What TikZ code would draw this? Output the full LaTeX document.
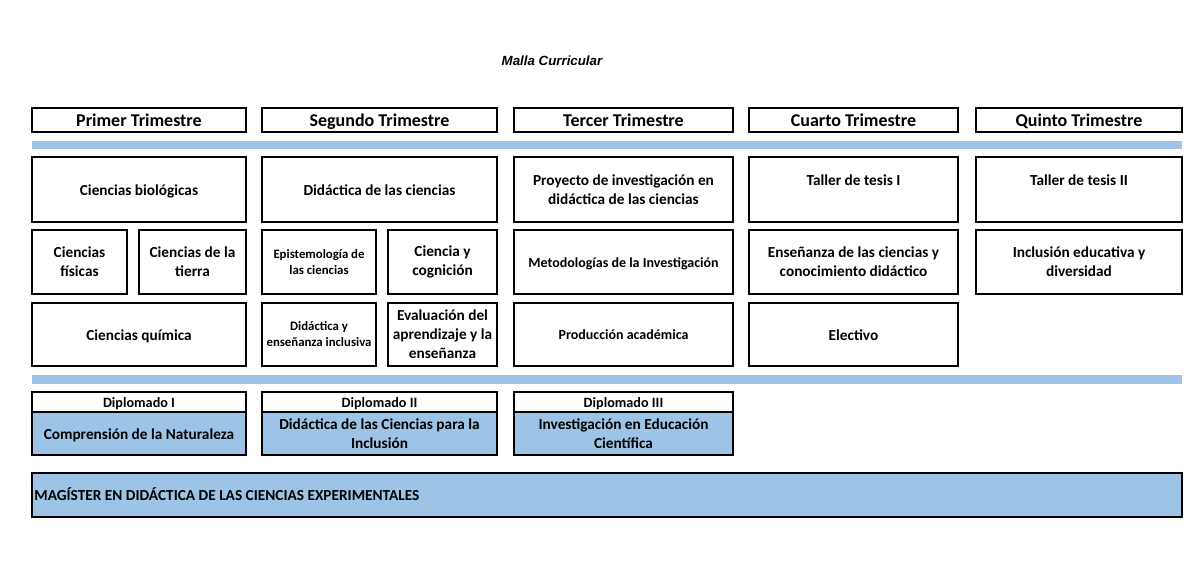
\documentclass[tikz,border=0pt]{standalone}
\usepackage{fontspec}
\setmainfont{Carlito}[BoldFont={* Bold}]
\newfontfamily\titlefont{Liberation Sans}
\definecolor{bandblue}{HTML}{9DC3E6}
\begin{document}
\begin{tikzpicture}[x=1pt,y=-1pt,
  box/.style={draw=black,line width=1.5pt,rectangle,inner sep=2pt,align=center},
  onehdr/.style={text height=14.4pt,text depth=2pt},
  onecell/.style={text height=12.6pt,text depth=1.4pt},
  onemid/.style={text height=11.7pt,text depth=1.1pt},
  onedh/.style={text height=11.8pt,text depth=1.1pt},
  hdr/.style={box,onehdr,font=\bfseries\fontsize{18}{20}\selectfont},
  cell/.style={box,font=\bfseries\fontsize{15.3}{19}\selectfont},
  smallcell/.style={box,font=\bfseries\fontsize{12.8}{16}\selectfont},
  midcell/.style={box,font=\bfseries\fontsize{14}{18}\selectfont},
  dhead/.style={box,onedh,font=\bfseries\fontsize{14.2}{16}\selectfont,minimum height=20},
  dbody/.style={box,fill=bandblue,font=\bfseries\fontsize{15.3}{19}\selectfont,minimum height=43},
  band/.style={fill=bandblue,draw=none,rectangle,inner sep=0pt}
]
\path[use as bounding box] (0,0) rectangle (1200,563);
\node[font=\titlefont\bfseries\itshape\fontsize{13.3}{15}\selectfont] (title) at (552,61) {Malla Curricular};
% headers
\node[hdr,minimum width=214,minimum height=24] (h1) at (139,120) {Primer Trimestre};
\node[hdr,minimum width=235,minimum height=24] (h2) at (379.5,120) {Segundo Trimestre};
\node[hdr,minimum width=219,minimum height=24] (h3) at (623.5,120) {Tercer Trimestre};
\node[hdr,minimum width=209,minimum height=24] (h4) at (853.5,120) {Cuarto Trimestre};
\node[hdr,minimum width=206,minimum height=24] (h5) at (1079,120) {Quinto Trimestre};
% band 1
\node[band,minimum width=1150,minimum height=8] (b1) at (607,145) {};
% row 1
\node[cell,onecell,minimum width=214,minimum height=65] (c11) at (139,189.5) {Ciencias biológicas};
\node[cell,onecell,minimum width=235,minimum height=65] (c21) at (379.5,189.5) {Didáctica de las ciencias};
\node[cell,minimum width=219,minimum height=65] (c31) at (623.5,189.5) {Proyecto de investigación en\\didáctica de las ciencias};
\node[cell,minimum width=209,minimum height=65] (c41) at (853.5,189.5) {Taller de tesis I\\\phantom{X}};
\node[cell,minimum width=206,minimum height=65] (c51) at (1079,189.5) {Taller de tesis II\\\phantom{X}};
% row 2
\node[cell,minimum width=95,minimum height=64] (c12a) at (79.5,262) {Ciencias\\físicas};
\node[cell,minimum width=107,minimum height=64] (c12b) at (192.5,262) {Ciencias de la\\tierra};
\node[smallcell,minimum width=114,minimum height=64] (c22a) at (319,262) {Epistemología de\\las ciencias};
\node[cell,minimum width=109,minimum height=64] (c22b) at (442.5,262) {Ciencia y\\cognición};
\node[midcell,onemid,minimum width=219,minimum height=64] (c32) at (623.5,262) {Metodologías de la Investigación};
\node[cell,minimum width=209,minimum height=64] (c42) at (853.5,262) {Enseñanza de las ciencias y\\conocimiento didáctico};
\node[cell,minimum width=206,minimum height=64] (c52) at (1079,262) {Inclusión educativa y\\diversidad};
% row 3
\node[cell,onecell,minimum width=214,minimum height=63] (c13) at (139,334.5) {Ciencias química};
\node[smallcell,minimum width=114,minimum height=63] (c23a) at (319,334.5) {Didáctica y\\enseñanza inclusiva};
\node[cell,minimum width=109,minimum height=63] (c23b) at (442.5,334.5) {Evaluación del\\aprendizaje y la\\enseñanza};
\node[midcell,onemid,minimum width=219,minimum height=63] (c33) at (623.5,334.5) {Producción académica};
\node[cell,onecell,minimum width=209,minimum height=63] (c43) at (853.5,334.5) {Electivo};
% band 2
\node[band,minimum width=1150,minimum height=9] (b2) at (607,379.5) {};
% diplomados
\node[dhead,minimum width=214] (d1h) at (139,402) {Diplomado I};
\node[dbody,onecell,minimum width=214] (d1b) at (139,433.5) {Comprensión de la Naturaleza};
\node[dhead,minimum width=235] (d2h) at (379.5,402) {Diplomado II};
\node[dbody,minimum width=235] (d2b) at (379.5,433.5) {Didáctica de las Ciencias para la\\Inclusión};
\node[dhead,minimum width=219] (d3h) at (623.5,402) {Diplomado III};
\node[dbody,minimum width=219] (d3b) at (623.5,433.5) {Investigación en Educación\\Científica};
% magister
\node[box,fill=bandblue,minimum width=1150,minimum height=44] (mag) at (607,495) {};
\node[anchor=west,onecell,inner sep=0pt,font=\bfseries\fontsize{15.3}{17}\selectfont] (magt) at ([xshift=3pt]mag.west) {MAGÍSTER EN DIDÁCTICA DE LAS CIENCIAS EXPERIMENTALES};
\end{tikzpicture}
\end{document}
